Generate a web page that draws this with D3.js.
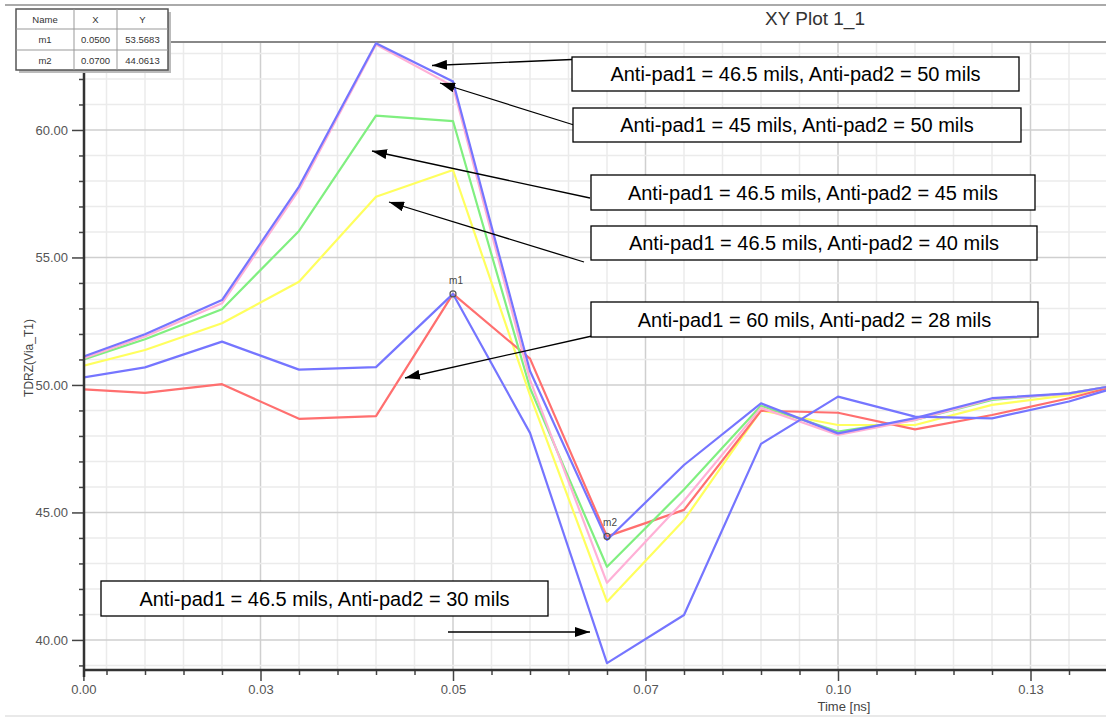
<!DOCTYPE html>
<html>
<head>
<meta charset="utf-8">
<script src="https://cdn.jsdelivr.net/npm/d3@7"></script>
<style>
  body { margin: 0; background: #fff; }
  text { font-family: "Liberation Sans", Arial, sans-serif; }
</style>
</head>
<body>
<div id="chart"></div>
<script>
// time points [ns]
const times = [0.002, 0.01, 0.02, 0.03, 0.04, 0.05, 0.06, 0.07, 0.08, 0.09, 0.10, 0.11, 0.12, 0.13, 0.135];

// TDRZ(Via_T1) for each anti-pad combination
const blueA  = [51.11, 51.99, 53.33, 57.78, 63.40, 61.90, 50.55, 43.92, 46.86, 49.28, 48.10, 48.70, 49.48, 49.67, 49.93];
const pink   = [51.05, 51.90, 53.20, 57.65, 63.35, 61.72, 50.20, 42.24, 45.46, 49.10, 48.04, 48.63, 49.45, 49.66, 49.93];
const green  = [51.00, 51.79, 52.97, 56.04, 60.56, 60.35, 49.88, 42.87, 45.90, 49.18, 48.17, 48.63, 49.41, 49.67, 49.93];
const yellow = [50.75, 51.37, 52.42, 54.05, 57.38, 58.43, 49.60, 41.50, 44.70, 49.00, 48.43, 48.43, 49.22, 49.60, 49.92];
const blueB  = [50.29, 50.69, 51.70, 50.60, 50.70, 53.57, 48.12, 39.09, 40.98, 47.69, 49.54, 48.76, 48.69, 49.35, 49.80];
const red    = [49.83, 49.69, 50.03, 48.67, 48.78, 53.57, 51.03, 44.06, 45.10, 48.99, 48.91, 48.26, 48.82, 49.48, 49.87];

// axis ticks
const xMajor = [0.002, 0.025, 0.05, 0.075, 0.1, 0.125];
const yMajor = [40, 45, 50, 55, 60];

// markers
const markerNames = ["m1", "m2"];
const markerX = [0.05, 0.07];
const markerY = [53.5683, 44.0613];

// annotation texts
const notes = [
  "Anti-pad1 = 46.5 mils, Anti-pad2 = 50 mils",
  "Anti-pad1 = 45 mils, Anti-pad2 = 50 mils",
  "Anti-pad1 = 46.5 mils, Anti-pad2 = 45 mils",
  "Anti-pad1 = 46.5 mils, Anti-pad2 = 40 mils",
  "Anti-pad1 = 60 mils, Anti-pad2 = 28 mils",
  "Anti-pad1 = 46.5 mils, Anti-pad2 = 30 mils"
];

const W = 1106, H = 717;

const svg = d3.select("#chart").append("svg")
    .attr("width", W)
    .attr("height", H);

const x = d3.scaleLinear().domain([0.002, 0.135]).range([83.4, 1107.5]);
const y = d3.scaleLinear().domain([38.86, 63.45]).range([669, 42]);

// frame lines
svg.append("line").attr("x1", 5).attr("x2", W).attr("y1", 5).attr("y2", 5)
    .style("stroke", "#aaa").style("stroke-width", 2);
svg.append("line").attr("x1", 5).attr("x2", W).attr("y1", 716).attr("y2", 716)
    .style("stroke", "#e2e2e2").style("stroke-width", 1.5);

svg.append("text")
    .attr("x", 815).attr("y", 25)
    .attr("text-anchor", "middle")
    .style("font-size", "19px")
    .style("fill", "#333")
    .text("XY Plot 1_1");

// grid
const xMinor = d3.range(1, 28).map(i => i * 0.005);
const yMinor = d3.range(39, 64);

const grid = svg.append("g");
grid.selectAll(".vgrid").data(xMinor).enter().append("line")
    .attr("x1", d => x(d)).attr("x2", d => x(d))
    .attr("y1", 42).attr("y2", 669)
    .style("stroke", (d, i) => (i + 1) % 5 == 0 ? "#cfcfcf" : "#ebebeb")
    .style("stroke-width", 1.5);
grid.selectAll(".hgrid").data(yMinor).enter().append("line")
    .attr("x1", 84).attr("x2", W)
    .attr("y1", d => y(d)).attr("y2", d => y(d))
    .style("stroke", d => d % 5 == 0 ? "#cfcfcf" : "#ebebeb")
    .style("stroke-width", 1.5);

// plot top border
svg.append("line").attr("x1", 16).attr("x2", W).attr("y1", 42).attr("y2", 42)
    .style("stroke", "#888").style("stroke-width", 2);

// curves
const line = d3.line().x((d, i) => x(times[i])).y(d => y(d));

svg.append("clipPath").attr("id", "clip").append("rect")
    .attr("x", 84).attr("y", 38).attr("width", W - 84).attr("height", 632);

const series = [
  { v: yellow, c: "#ffff5e" },
  { v: red, c: "#ff6f6f" },
  { v: green, c: "#80ef80" },
  { v: pink, c: "#ffb0d6" },
  { v: blueB, c: "#7575ff" },
  { v: blueA, c: "#7575ff" }
];

svg.append("g").attr("clip-path", "url(#clip)")
    .selectAll("path").data(series).enter().append("path")
    .attr("d", d => line(d.v))
    .style("fill", "none")
    .style("stroke", d => d.c)
    .style("stroke-width", 2.2)
    .style("stroke-linejoin", "round");

// markers
markerNames.forEach(function (m, i) {
    svg.append("circle")
        .attr("cx", x(markerX[i])).attr("cy", y(markerY[i]))
        .attr("r", 3)
        .style("fill", "none")
        .style("stroke", "#555")
        .style("stroke-width", 1.2);
    svg.append("text")
        .attr("x", x(markerX[i]) + 3).attr("y", y(markerY[i]) - 10)
        .attr("text-anchor", "middle")
        .style("font-size", "10px")
        .style("fill", "#444")
        .text(m);
});

// axes
const yAxis = svg.append("g").attr("transform", "translate(84,0)")
    .call(d3.axisLeft(y).tickValues(yMajor).tickFormat(d => d.toFixed(2)).tickSize(12).tickPadding(4));
svg.append("g").attr("transform", "translate(84,0)")
    .call(d3.axisLeft(y).tickValues(yMinor.filter(d => d % 5 != 0)).tickFormat("").tickSize(5));

const xAxis = svg.append("g").attr("transform", "translate(0,670)")
    .call(d3.axisBottom(x).tickValues(xMajor).tickFormat(d => d.toFixed(2)).tickSize(11).tickPadding(4));
svg.append("g").attr("transform", "translate(0,670)")
    .call(d3.axisBottom(x).tickValues(xMinor.filter((d, i) => (i + 1) % 5 != 0)).tickFormat("").tickSize(5));

svg.selectAll(".domain").remove();
svg.selectAll(".tick line").style("stroke", "#444").style("stroke-width", 1.5);
svg.selectAll(".tick text")
    .style("font-size", "13px")
    .style("font-family", "'Liberation Sans', Arial, sans-serif")
    .style("fill", "#555");

svg.append("line").attr("x1", 84).attr("x2", 84).attr("y1", 42).attr("y2", 677)
    .style("stroke", "#333").style("stroke-width", 2.5);
svg.append("line").attr("x1", 83).attr("x2", W).attr("y1", 670).attr("y2", 670)
    .style("stroke", "#333").style("stroke-width", 2.5);

svg.append("text")
    .attr("transform", "translate(33,358) rotate(-90)")
    .attr("text-anchor", "middle")
    .style("font-size", "12px")
    .style("fill", "#444")
    .text("TDRZ(Via_T1)");

svg.append("text")
    .attr("x", 844).attr("y", 711)
    .attr("text-anchor", "middle")
    .style("font-size", "13px")
    .style("fill", "#444")
    .text("Time [ns]");

// marker table
const table = svg.append("g").attr("transform", "translate(16,9)");
const colX = [0, 58, 101, 152];
const rowY = [0, 20, 41, 61];
table.append("rect").attr("x", 3).attr("y", 3).attr("width", 152).attr("height", 61)
    .style("fill", "#bbb");
table.append("rect").attr("width", 152).attr("height", 61)
    .style("fill", "#fff").style("stroke", "#555").style("stroke-width", 1.5);
[1, 2].forEach(function (c) {
    table.append("line").attr("x1", colX[c]).attr("x2", colX[c]).attr("y1", 0).attr("y2", 61)
        .style("stroke", "#999");
    table.append("line").attr("x1", 0).attr("x2", 152).attr("y1", rowY[c]).attr("y2", rowY[c])
        .style("stroke", "#999");
});
const rows = [["Name", "X", "Y"]].concat(markerNames.map((m, i) => [m, markerX[i].toFixed(4), markerY[i].toFixed(4)]));
rows.forEach(function (r, ri) {
    r.forEach(function (cell, ci) {
        table.append("text")
            .attr("x", (colX[ci] + colX[ci + 1]) / 2)
            .attr("y", (rowY[ri] + rowY[ri + 1]) / 2 + 3.5)
            .attr("text-anchor", "middle")
            .style("font-size", "9.5px")
            .style("fill", "#333")
            .text(cell);
    });
});

// annotations
const boxes = [
  { x: 572, y: 57, w: 447, h: 34 },
  { x: 573, y: 108, w: 448, h: 34 },
  { x: 591, y: 175, w: 444, h: 35 },
  { x: 591, y: 226, w: 446, h: 34 },
  { x: 591, y: 302, w: 447, h: 35 },
  { x: 101, y: 581, w: 447, h: 35 }
];
const arrows = [
  [572, 59.5, 432, 65.5],
  [574, 125, 440, 83],
  [590, 198, 372, 151],
  [584, 262, 389, 202],
  [592, 336, 405, 378],
  [448, 632, 590, 632]
];

svg.append("defs").append("marker")
    .attr("id", "head")
    .attr("viewBox", "0 -5 15 10")
    .attr("refX", 15).attr("refY", 0)
    .attr("markerUnits", "userSpaceOnUse")
    .attr("markerWidth", 15).attr("markerHeight", 10)
    .attr("orient", "auto")
    .append("path").attr("d", "M0,-5L15,0L0,5Z").style("fill", "#000");

svg.selectAll(".arrow").data(arrows).enter().append("line")
    .attr("x1", d => d[0]).attr("y1", d => d[1])
    .attr("x2", d => d[2]).attr("y2", d => d[3])
    .style("stroke", "#000").style("stroke-width", 1.3)
    .attr("marker-end", "url(#head)");

const note = svg.selectAll(".note").data(notes).enter().append("g");
note.append("rect")
    .attr("x", (d, i) => boxes[i].x).attr("y", (d, i) => boxes[i].y)
    .attr("width", (d, i) => boxes[i].w).attr("height", (d, i) => boxes[i].h)
    .style("fill", "#fff").style("stroke", "#000").style("stroke-width", 1.3);
note.append("text")
    .attr("x", (d, i) => boxes[i].x + boxes[i].w / 2)
    .attr("y", (d, i) => boxes[i].y + boxes[i].h / 2 + 7)
    .attr("text-anchor", "middle")
    .style("font-size", "20px")
    .style("fill", "#000")
    .text(d => d);
</script>
</body>
</html>
